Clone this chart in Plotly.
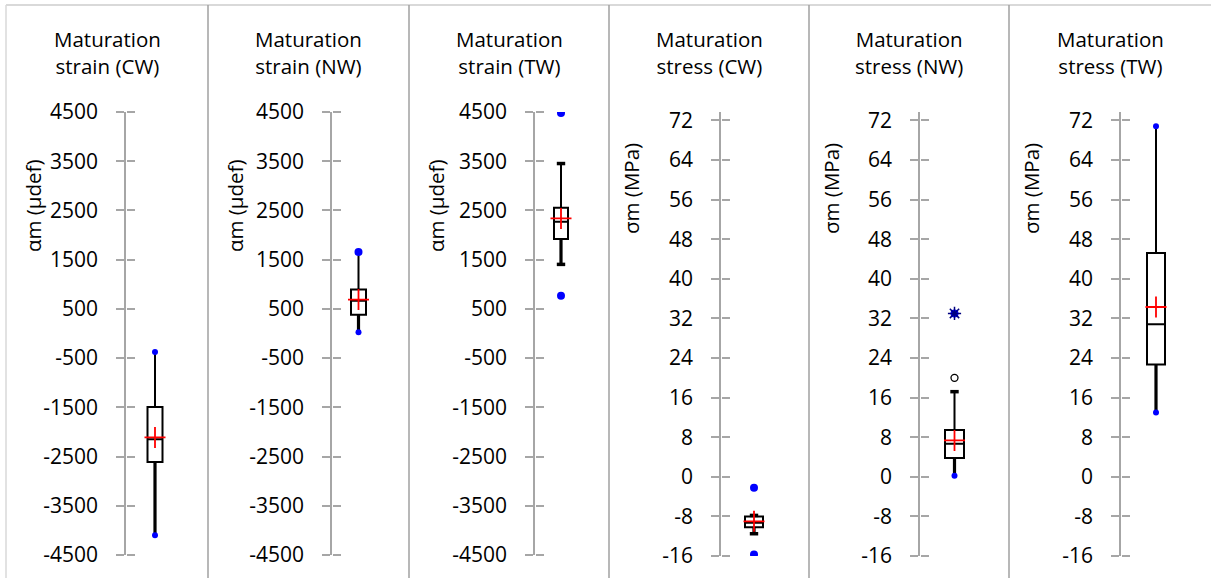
import plotly.graph_objects as go

# ---------------- data ----------------
titles = ["Maturation<br>strain (CW)", "Maturation<br>strain (NW)", "Maturation<br>strain (TW)",
          "Maturation<br>stress (CW)", "Maturation<br>stress (NW)", "Maturation<br>stress (TW)"]
y_titles = ["αm (μdef)", "αm (μdef)", "αm (μdef)", "σm (MPa)", "σm (MPa)", "σm (MPa)"]

q1 = [-2613, 380, 1920, -10.2, 3.8, 22.7]
median = [-2149, 667, 2271, -9.3, 6.7, 30.8]
q3 = [-1491, 894, 2555, -8.0, 9.45, 45.2]
mean = [-2112, 690, 2338, -9.0, 7.35, 34.3]
lower_whisker = [-4101, 27, 1404, -11.5, 0.2, 13.0]
upper_whisker = [-377, 1654, 3453, -7.8, 17.2, 70.8]
minimum = [-4101, 27, 768, -15.7, 0.2, 13.0]
maximum = [-377, 1654, 4480, -2.2, 33.0, 70.8]
open_outliers = [[], [], [], [], [20.0], []]

strain_ticks = [-4500, -3500, -2500, -1500, -500, 500, 1500, 2500, 3500, 4500]
stress_ticks = [-16, -8, 0, 8, 16, 24, 32, 40, 48, 56, 64, 72]

# ---------------- layout config (pixels) ----------------
W, H = 1211, 578
panel_left = [7, 208, 409, 609, 809, 1009]
panel_right = [208, 409, 609, 809, 1009, 1211]
axis_x = [126, 332, 535, 721, 920, 1121]
box_offset = [29, 26.5, 26, 33, 34.5, 35]
box_width = [15, 15, 14, 18, 19, 18]
ytitle_x = [33, 235, 436, 631, 831, 1031]
ytitle_y = [206, 206, 206, 189, 189, 189]
title_y = 52
upper_cap = [False, False, True, True, True, False]
lower_cap = [False, False, True, True, False, False]
min_size = [6, 6, 8, 8, 6, 6]
max_size = [6, 8, 8, 8, 8, 6]
max_star = [False, False, False, False, True, False]

FONT = "'Open Sans', 'DejaVu Sans', sans-serif"
FS = 21
FS_TITLE = 20.5
AX_GRAY = "#a6a6a6"
BLUE = "#0000ff"


def px(x):
    return x / W


def py(y):
    return 1 - y / H


fig = go.Figure()
layout = dict(width=W, height=H, autosize=False, margin=dict(l=0, r=0, t=0, b=0, pad=0),
              paper_bgcolor="white", plot_bgcolor="rgba(0,0,0,0)",
              showlegend=False, font=dict(family=FONT, size=FS, color="black"))
annotations = []
shapes = []

for i in range(6):
    n = i + 1
    xa = f"x{n}" if n > 1 else "x"
    ya = f"y{n}" if n > 1 else "y"
    ya_over = f"y{n + 6}"
    strain = i < 3
    if strain:
        yr = [-4500, 4500]
        tv = strain_ticks
        dom = [py(555), py(112)]
    else:
        yr = [-16, 73.7]
        tv = stress_ticks
        dom = [py(556), py(112)]
    tt = [str(v) for v in tv]

    layout[f"xaxis{n if n > 1 else ''}"] = dict(
        domain=[px(axis_x[i]), px(panel_right[i])], automargin=False,
        range=[0, panel_right[i] - axis_x[i]], visible=False, fixedrange=True, anchor=ya)
    layout[f"yaxis{n if n > 1 else ''}"] = dict(
        domain=dom, range=yr, anchor=xa, tickvals=tv, ticktext=tt, automargin=False,
        ticks="outside", ticklen=8, tickwidth=1.5, tickcolor=AX_GRAY,
        showline=True, linecolor=AX_GRAY, linewidth=1.5,
        showgrid=False, zeroline=False, ticklabelstandoff=14,
        tickfont=dict(family=FONT, size=FS, color="black"), fixedrange=True)
    # right-pointing half of the crossing tick marks
    layout[f"yaxis{n + 6}"] = dict(
        overlaying=ya, anchor="free", position=px(axis_x[i]), range=yr, tickvals=tv,
        side="right", automargin=False,
        ticks="outside", ticklen=8, tickwidth=1.5, tickcolor=AX_GRAY,
        showticklabels=False, showline=False, showgrid=False, zeroline=False,
        fixedrange=True)

    off = box_offset[i]
    # invisible trace for overlay axis
    fig.add_trace(go.Scatter(x=[off], y=[median[i]], mode="markers", marker=dict(opacity=0),
                             xaxis=xa, yaxis=ya_over, hoverinfo="skip"))
    # box
    fig.add_trace(go.Box(x=[off], q1=[q1[i]], median=[median[i]], q3=[q3[i]],
                         lowerfence=[lower_whisker[i]], upperfence=[upper_whisker[i]],
                         width=box_width[i], whiskerwidth=0, boxpoints=False,
                         line=dict(color="black", width=2), fillcolor="white",
                         xaxis=xa, yaxis=ya, hoverinfo="skip"))
    # thicker lower whisker
    fig.add_trace(go.Scatter(x=[off, off], y=[lower_whisker[i], q1[i]], mode="lines",
                             line=dict(color="black", width=3.2), xaxis=xa, yaxis=ya,
                             hoverinfo="skip"))
    # caps
    caps = []
    if upper_cap[i]:
        caps.append(upper_whisker[i])
    if lower_cap[i]:
        caps.append(lower_whisker[i])
    if caps:
        fig.add_trace(go.Scatter(x=[off] * len(caps), y=caps, mode="markers",
                                 marker=dict(symbol="line-ew", size=6, color="black",
                                             line=dict(color="black", width=3.5)),
                                 xaxis=xa, yaxis=ya, hoverinfo="skip"))
    # min / max
    fig.add_trace(go.Scatter(x=[off, off], y=[minimum[i], maximum[i]], mode="markers",
                             marker=dict(symbol="circle", size=[min_size[i], max_size[i]],
                                         color=BLUE, opacity=1, line=dict(width=0)),
                             xaxis=xa, yaxis=ya, hoverinfo="skip"))
    if max_star[i]:
        fig.add_trace(go.Scatter(x=[off], y=[maximum[i]], mode="markers",
                                 marker=dict(symbol="asterisk-open", size=11, color="#000080",
                                             line=dict(color="#000080", width=1.5)),
                                 xaxis=xa, yaxis=ya, hoverinfo="skip"))
    # open outliers
    if open_outliers[i]:
        fig.add_trace(go.Scatter(x=[off] * len(open_outliers[i]), y=open_outliers[i],
                                 mode="markers",
                                 marker=dict(symbol="circle-open", size=7, color="black",
                                             line=dict(color="black", width=1.3)),
                                 xaxis=xa, yaxis=ya, hoverinfo="skip"))
    # mean
    fig.add_trace(go.Scatter(x=[off], y=[mean[i]], mode="markers",
                             marker=dict(symbol="cross-thin", size=15, color="#ff0000",
                                         line=dict(color="#ff0000", width=1.8)),
                             xaxis=xa, yaxis=ya, hoverinfo="skip"))

    # titles
    annotations.append(dict(text=titles[i], x=px((panel_left[i] + panel_right[i]) / 2),
                            y=py(title_y), xref="paper", yref="paper", showarrow=False,
                            xanchor="center", yanchor="middle", align="center",
                            font=dict(family=FONT, size=FS_TITLE, color="black")))
    annotations.append(dict(text=y_titles[i], x=px(ytitle_x[i]), y=py(ytitle_y[i]),
                            xref="paper", yref="paper", showarrow=False, textangle=-90,
                            xanchor="center", yanchor="middle",
                            font=dict(family=FONT, size=FS_TITLE, color="black")))

# frame lines
shapes.append(dict(type="line", xref="paper", yref="paper", x0=px(6), x1=1, y0=py(5), y1=py(5),
                   line=dict(color="#d9d9d9", width=2)))
shapes.append(dict(type="line", xref="paper", yref="paper", x0=px(6), x1=px(6), y0=py(5), y1=0,
                   line=dict(color="#d9d9d9", width=1.5)))
for xl in panel_left[1:]:
    shapes.append(dict(type="line", xref="paper", yref="paper", x0=px(xl), x1=px(xl),
                       y0=py(5), y1=0, line=dict(color="#a0a0a0", width=1.5)))

layout["annotations"] = annotations
layout["shapes"] = shapes
fig.update_layout(**layout)
fig.write_html("out.html", config={"displayModeBar": False},
               post_script="document.body.style.margin='0';document.body.style.overflow='hidden';")
